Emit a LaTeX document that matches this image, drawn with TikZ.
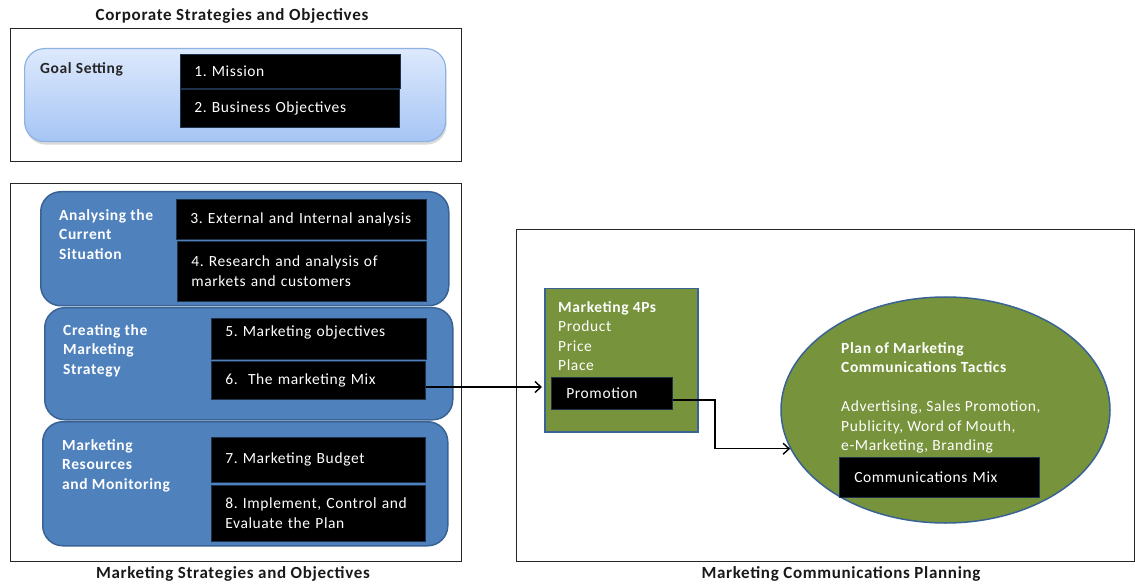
\documentclass[tikz,border=0pt]{standalone}
\usepackage{fontspec}
\setmainfont{Carlito}[LetterSpace=4]
\usetikzlibrary{arrows.meta,shadows,shapes.geometric}

\definecolor{panelblue}{HTML}{4F81BD}
\definecolor{paneledge}{HTML}{3A6395}
\definecolor{mixgreen}{HTML}{77933C}
\definecolor{goaltop}{HTML}{DDE9FC}
\definecolor{goalbot}{HTML}{A6C5F5}
\definecolor{goaledge}{HTML}{8DB3E2}

\newcommand\bodyfont{\fontsize{15.5}{19.5}\selectfont}
\newcommand\headfont{\fontsize{17}{20}\selectfont\bfseries}

\begin{document}
\frenchspacing
\begin{tikzpicture}[x=1pt,y=-1pt,
  frame/.style={draw=black!85, line width=1pt, anchor=north west, inner sep=0pt},
  goalpanel/.style={draw=goaledge, line width=1.2pt, top color=goaltop, bottom color=goalbot,
    rounded corners=20pt, anchor=north west, inner sep=0pt,
    drop shadow={opacity=0.3, shadow xshift=1pt, shadow yshift=-3pt}},
  panel/.style={draw=paneledge, line width=1.5pt, fill=panelblue, rounded corners=20pt,
    anchor=north west, inner sep=0pt},
  blackbox/.style={fill=black, draw=paneledge!50!black, line width=0.6pt, text=white,
    anchor=north west, inner xsep=14pt, inner ysep=0pt, align=left, font=\bodyfont},
  paneltext/.style={anchor=north west, inner sep=0pt, align=left, text=white,
    font=\bodyfont\bfseries},
  plaintext/.style={anchor=north west, inner sep=0pt, align=left, text=white, font=\bodyfont},
  heading/.style={font=\headfont, text=black!90, inner sep=0pt},
  conn/.style={draw=black, line width=1.4pt, -{Straight Barb[length=6pt,width=11pt]}}
]
\useasboundingbox (0,0) rectangle (1135,585);

% ---------- Corporate strategies ----------
\node[heading] (corptitle) at (232,16) {Corporate Strategies and Objectives};
\node[frame, minimum width=451pt, minimum height=133pt] (corp) at (10,28) {};
\node[goalpanel, minimum width=421pt, minimum height=93pt] (goal) at (24,48) {};
\node[anchor=north west, inner sep=0pt, font=\bodyfont\bfseries, text=black!85] (goaltxt) at (40,62) {Goal Setting};
\node[blackbox, text width=192pt, minimum height=34pt] (b1) at (180,54) {1. Mission};
\node[blackbox, text width=191pt, minimum height=38pt] (b2) at (180,89) {2. Business Objectives};

% ---------- Marketing strategies ----------
\node[frame, minimum width=451pt, minimum height=378pt] (mkt) at (10,183) {};
\node[panel, minimum width=408pt, minimum height=114pt] (pa) at (40,191) {};
\node[panel, minimum width=408pt, minimum height=112pt] (pb) at (44,307) {};
\node[panel, minimum width=405pt, minimum height=124pt] (pc) at (42,421) {};

\node[paneltext] (ta) at (59,209) {Analysing the\\Current\\Situation};
\node[paneltext] (tb) at (63,324) {Creating the\\Marketing\\Strategy};
\node[paneltext] (tc) at (62,439) {Marketing\\Resources\\and Monitoring};

\node[blackbox, text width=222pt, minimum height=40pt] (b3) at (176,199) {3. External and Internal analysis};
\node[blackbox, text width=221pt, minimum height=60pt] (b4) at (177,241) {4. Research and analysis of\\markets and customers};
\node[blackbox, text width=187pt, minimum height=41pt] (b5) at (211,318) {5. Marketing objectives\\[-4pt]\mbox{}};
\node[blackbox, text width=186pt, minimum height=38pt] (b6) at (211,361) {6.~ The marketing Mix};
\node[blackbox, text width=186pt, minimum height=45pt] (b7) at (211,437) {7. Marketing Budget};
\node[blackbox, text width=186pt, minimum height=56pt] (b8) at (211,485) {\mbox{8. Implement, Control and}\\Evaluate the Plan};

\node[heading] (mkttitle) at (233,574) {Marketing Strategies and Objectives};

% ---------- Communications planning ----------
\node[frame, minimum width=618pt, minimum height=332pt] (comm) at (516,229) {};
\node[draw=paneledge, line width=1.5pt, fill=mixgreen, anchor=north west, inner sep=0pt,
  minimum width=153pt, minimum height=143pt] (sq) at (544,288) {};
\node[plaintext] (sqtxt) at (558,301) {\textbf{Marketing 4Ps}\\Product\\Price\\Place};
\node[blackbox, text width=91pt, minimum height=32pt, inner xsep=15pt] (promo) at (551,377) {Promotion};

\node[ellipse, draw=paneledge, line width=1.5pt, fill=mixgreen, inner sep=0pt,
  minimum width=329pt, minimum height=226pt] (plan) at (945.5,410) {};
\node[plaintext] (plantxt) at (841,342) {\textbf{Plan of Marketing}\\\textbf{Communications Tactics}\\[19.5pt]Advertising, Sales Promotion,\\Publicity, Word of Mouth,\\e-Marketing, Branding};
\node[blackbox, text width=170pt, minimum height=40pt, inner xsep=15pt] (cmix) at (839,457) {Communications Mix};

\node[heading] (commtitle) at (841,574) {Marketing Communications Planning};

% ---------- connectors ----------
\coordinate (mixrow) at (0,387);
\coordinate (promorow) at (0,400);
\coordinate (bendx) at (715,0);
\draw[conn, shorten >=2pt] (b6.east |- mixrow) -- (sq.west |- mixrow);
\draw[conn] (promo.east |- promorow) -| (bendx |- plan.194) -- (plan.194);
\end{tikzpicture}
\end{document}
